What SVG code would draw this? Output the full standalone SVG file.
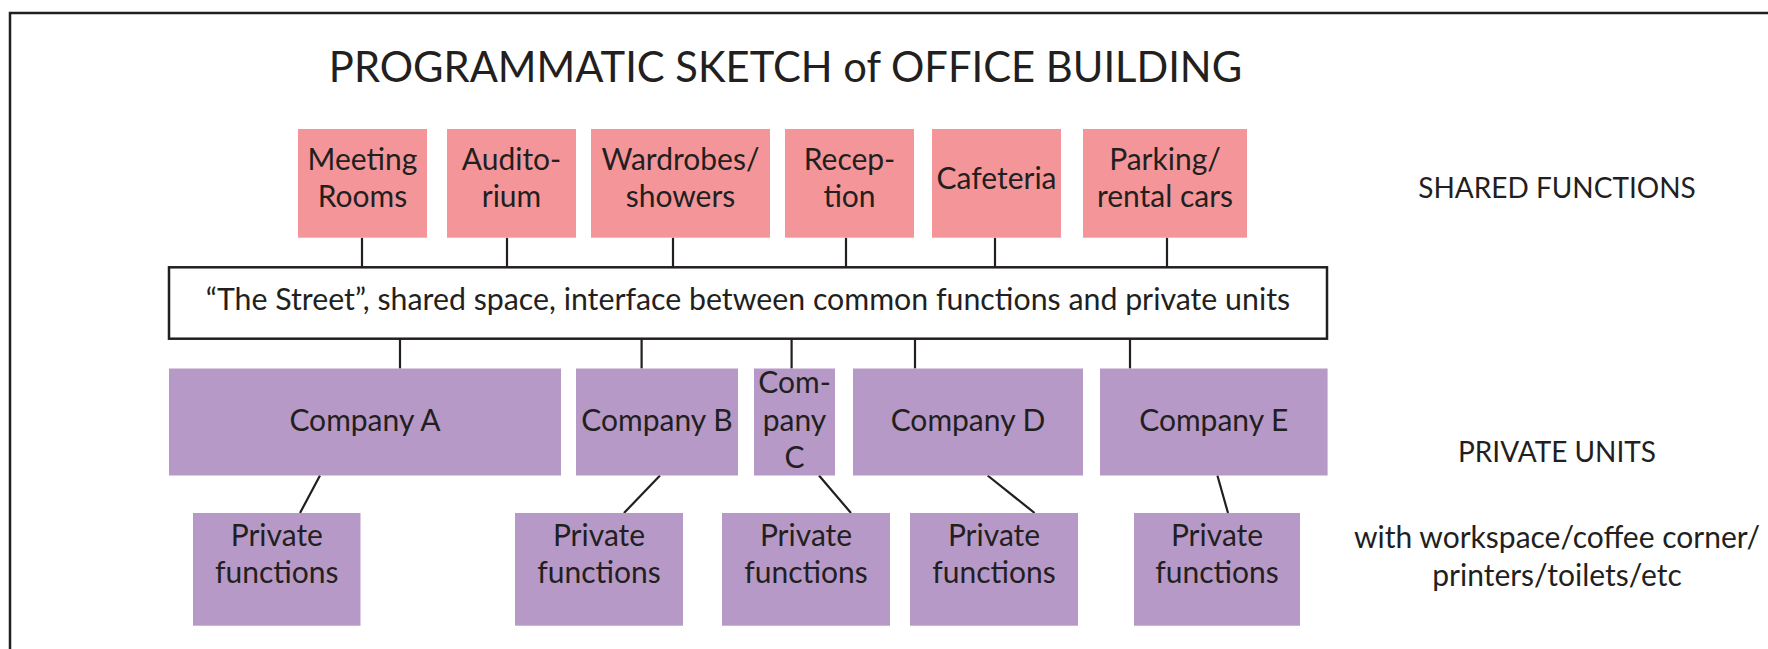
<svg xmlns="http://www.w3.org/2000/svg" width="1768" height="649" viewBox="0 0 1768 649">
<style>
text{font-family:Lato,"Liberation Sans",sans-serif;fill:#231f20;text-anchor:middle}
.t{font-size:30px}
.c{font-size:28px}
.s{font-size:30.3px}
.h{font-size:41.7px}
.pink{fill:#f49699}
.purp{fill:#b799c7}
.ln{stroke:#231f20;stroke-width:2.2;fill:none}
</style>
<rect x="10" y="13" width="1800" height="700" fill="#fff" stroke="#231f20" stroke-width="2.5"/>
<text class="h" x="785.5" y="81.7">PROGRAMMATIC SKETCH of OFFICE BUILDING</text>
<g id="connectors">
<path class="ln" d="M362 237.7V267.3M507 237.7V267.3M673 237.7V267.3M846 237.7V267.3M995 237.7V267.3M1167 237.7V267.3"/>
<path class="ln" d="M400 338.7V368.5M641.6 338.7V368.5M791.6 338.7V368.5M915 338.7V368.5M1130 338.7V368.5"/>
<path class="ln" d="M320 475.5L300 513M660 475.5L624 513M819 475.5L851 513M987.6 475.5L1034.6 513M1217.4 475.5L1228 513"/>
</g>
<g id="meeting"><rect class="pink" x="298" y="129" width="129" height="108.7"/><text class="t" x="362.5" y="170">Meeting</text><text class="t" x="362.5" y="207">Rooms</text></g>
<g id="auditorium"><rect class="pink" x="447" y="129" width="129" height="108.7"/><text class="t" x="511.5" y="170">Audito-</text><text class="t" x="511.5" y="207">rium</text></g>
<g id="wardrobes"><rect class="pink" x="591" y="129" width="179" height="108.7"/><text class="t" x="680.5" y="170">Wardrobes/</text><text class="t" x="680.5" y="207">showers</text></g>
<g id="reception"><rect class="pink" x="785" y="129" width="129" height="108.7"/><text class="t" x="849.5" y="170">Recep-</text><text class="t" x="849.5" y="207">tion</text></g>
<g id="cafeteria"><rect class="pink" x="932" y="129" width="129" height="108.7"/><text class="t" x="996.5" y="189">Cafeteria</text></g>
<g id="parking"><rect class="pink" x="1083" y="129" width="164" height="108.7"/><text class="t" x="1165" y="170">Parking/</text><text class="t" x="1165" y="207">rental cars</text></g>
<text class="c" x="1557" y="198">SHARED FUNCTIONS</text>
<g id="street"><rect x="169" y="267.3" width="1158" height="71.4" fill="#fff" stroke="#231f20" stroke-width="2.5"/><text class="s" x="748" y="310">“The Street”, shared space, interface between common functions and private units</text></g>
<g id="companyA"><rect class="purp" x="169" y="368.5" width="392" height="107"/><text class="t" x="365" y="430.7">Company A</text></g>
<g id="companyB"><rect class="purp" x="576" y="368.5" width="162" height="107"/><text class="t" x="657" y="430.7">Company B</text></g>
<g id="companyC"><rect class="purp" x="754" y="368.5" width="81" height="107"/><text class="t" x="794.5" y="393">Com-</text><text class="t" x="794.5" y="431">pany</text><text class="t" x="794.5" y="468">C</text></g>
<g id="companyD"><rect class="purp" x="853" y="368.5" width="230" height="107"/><text class="t" x="968" y="430.7">Company D</text></g>
<g id="companyE"><rect class="purp" x="1100" y="368.5" width="227.6" height="107"/><text class="t" x="1213.8" y="430.7">Company E</text></g>
<g id="privA"><rect class="purp" x="193" y="513" width="167.5" height="112.7"/><text class="t" x="276.8" y="545.7">Private</text><text class="t" x="276.8" y="583.3">functions</text></g>
<g id="privB"><rect class="purp" x="515" y="513" width="168" height="112.7"/><text class="t" x="599" y="545.7">Private</text><text class="t" x="599" y="583.3">functions</text></g>
<g id="privC"><rect class="purp" x="722" y="513" width="168" height="112.7"/><text class="t" x="806" y="545.7">Private</text><text class="t" x="806" y="583.3">functions</text></g>
<g id="privD"><rect class="purp" x="910" y="513" width="168" height="112.7"/><text class="t" x="994" y="545.7">Private</text><text class="t" x="994" y="583.3">functions</text></g>
<g id="privE"><rect class="purp" x="1134" y="513" width="166" height="112.7"/><text class="t" x="1217" y="545.7">Private</text><text class="t" x="1217" y="583.3">functions</text></g>
<text class="c" x="1557" y="461.7">PRIVATE UNITS</text>
<text class="t" x="1557" y="548">with workspace/coffee corner/</text>
<text class="t" x="1557" y="586">printers/toilets/etc</text>
</svg>
